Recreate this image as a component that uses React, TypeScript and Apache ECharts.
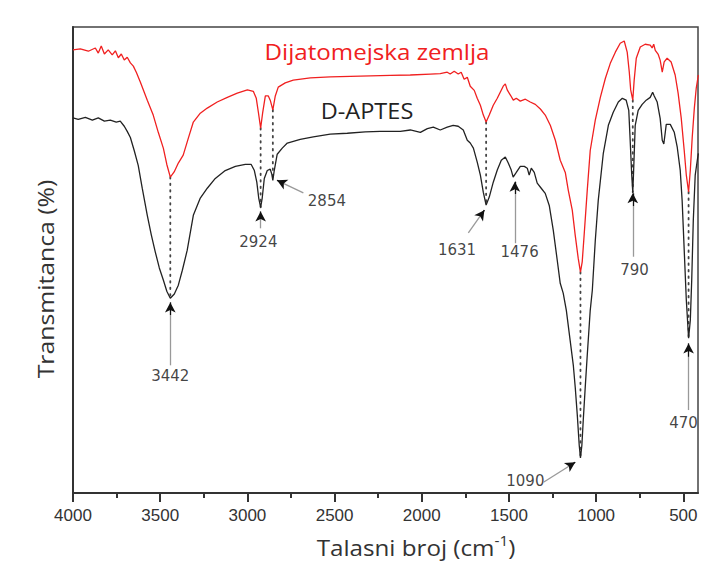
import React, { useEffect, useRef } from "react";
import * as echarts from "echarts";

// Dijatomejska zemlja (red) spectrum: wavenumber (cm-1) and transmittance (arb. %)
const redWn = [
  4000, 3958, 3912, 3872, 3855, 3838, 3820, 3798, 3775, 3757, 3740, 3723, 3706, 3689, 3671, 3654, 3637,
  3614, 3574, 3540, 3511, 3482, 3462, 3442, 3420, 3396, 3368, 3339, 3310, 3270, 3230, 3173, 3115, 3058,
  3000, 2966, 2949, 2937, 2924, 2912, 2897, 2880, 2869, 2854, 2840, 2823, 2783, 2737, 2639, 2525, 2410,
  2295, 2181, 2066, 1951, 1894, 1854, 1837, 1814, 1791, 1774, 1757, 1739, 1722, 1699, 1682, 1664, 1647,
  1631, 1613, 1590, 1567, 1550, 1533, 1521, 1510, 1492, 1475, 1458, 1435, 1406, 1378, 1349, 1320, 1292,
  1263, 1234, 1206, 1177, 1160, 1137, 1120, 1103, 1090, 1080, 1069, 1051, 1034, 1005, 976, 947, 919, 890,
  862, 839, 822, 810, 802, 790, 782, 770, 747, 719, 690, 679, 670, 661, 644, 633, 621, 610, 593, 570, 547,
  530, 512, 495, 483, 470, 460, 449, 437, 426, 414,
];
const redT = [
  95.1, 95.3, 94.8, 95.5, 94.4, 95.9, 94.2, 95.1, 94.0, 94.9, 93.4, 94.2, 92.9, 93.5, 92.3, 91.6, 90.3,
  88.2, 84.3, 81.1, 77.4, 74.0, 70.5, 67.8, 68.9, 70.8, 72.5, 76.1, 79.6, 81.5, 82.6, 83.9, 84.9, 85.8,
  86.5, 86.2, 84.7, 81.7, 78.3, 81.7, 85.2, 85.2, 84.3, 82.2, 85.2, 87.1, 88.0, 88.6, 89.1, 89.3, 89.4,
  89.5, 89.6, 89.7, 89.9, 90.0, 90.3, 89.9, 90.5, 89.9, 90.3, 88.8, 89.2, 87.3, 86.4, 84.7, 83.2, 81.1,
  79.6, 81.1, 83.2, 84.7, 86.0, 87.3, 87.8, 86.5, 85.4, 84.3, 84.7, 84.1, 84.5, 83.9, 83.4, 82.4, 81.1,
  78.9, 75.7, 71.4, 68.8, 65.0, 60.7, 55.3, 50.4, 47.4, 49.6, 55.3, 65.0, 73.5, 80.0, 84.9, 89.0, 92.2, 94.6,
  96.5, 97.0, 94.6, 90.3, 86.5, 84.3, 88.6, 93.3, 95.7, 96.3, 96.1, 95.5, 96.3, 95.0, 94.1, 92.9, 90.3, 92.5, 93.3, 92.5, 89.7,
  85.8, 80.4, 73.5, 68.2, 64.6, 69.3, 76.4, 82.6, 86.9, 89.7,
];

// D-APTES (black) spectrum
const blackWn = [
  4000, 3970, 3929, 3889, 3855, 3820, 3786, 3752, 3729, 3706, 3689, 3671, 3649, 3626, 3603, 3574, 3551,
  3528, 3505, 3482, 3462, 3442, 3419, 3396, 3373, 3345, 3310, 3270, 3230, 3184, 3127, 3069, 3012, 2978,
  2960, 2946, 2935, 2924, 2915, 2903, 2886, 2869, 2860, 2854, 2846, 2829, 2800, 2771, 2697, 2622, 2525,
  2427, 2324, 2238, 2123, 2066, 2008, 1968, 1934, 1894, 1854, 1820, 1791, 1762, 1739, 1722, 1704, 1682,
  1664, 1647, 1631, 1613, 1590, 1567, 1544, 1521, 1504, 1487, 1476, 1458, 1435, 1412, 1395, 1384, 1372,
  1355, 1338, 1315, 1292, 1269, 1246, 1223, 1206, 1189, 1171, 1149, 1131, 1120, 1108, 1097, 1090, 1082,
  1074, 1062, 1051, 1034, 1022, 1005, 988, 959, 930, 902, 873, 850, 828, 813, 805, 796, 790, 785, 776, 759,
  736, 713, 690, 676, 667, 650, 633, 621, 612, 598, 575, 552, 535, 518, 507, 495, 483, 470, 460, 452, 443,
  432, 420, 414,
];
const blackT = [
  80.5, 80.2, 80.6, 80.0, 80.5, 79.8, 80.0, 79.6, 79.8, 78.7, 77.6, 76.3, 73.5, 70.3, 65.4, 59.6, 55.4,
  51.7, 48.3, 45.7, 43.3, 41.8, 42.7, 44.6, 47.8, 52.1, 59.6, 63.3, 65.4, 67.5, 69.2, 70.1, 70.5, 70.5,
  69.2, 66.7, 63.3, 61.3, 63.3, 67.5, 69.2, 69.5, 68.4, 67.1, 69.2, 72.7, 74.0, 75.1, 75.9, 76.4, 77.0,
  77.2, 77.5, 77.6, 77.6, 77.9, 77.4, 78.2, 78.5, 77.9, 78.5, 78.9, 78.7, 77.9, 75.7, 75.1, 74.0, 71.0,
  68.2, 64.5, 61.8, 63.5, 66.7, 69.3, 71.4, 72.1, 70.8, 69.3, 67.8, 68.8, 70.1, 70.1, 69.7, 68.2, 69.7,
  68.8, 66.5, 65.4, 64.3, 61.7, 56.4, 49.9, 45.0, 42.9, 39.2, 32.7, 27.4, 22.7, 16.6, 10.2, 7.5, 10.2,
  15.6, 23.1, 29.6, 39.2, 43.5, 54.2, 62.8, 72.9, 78.9, 81.7, 83.9, 84.7, 84.3, 82.1, 75.7, 68.2, 64.5, 69.3, 78.9, 82.1,
  83.4, 84.3, 84.9, 86.0, 85.2, 83.9, 80.4, 75.7, 74.9, 79.1, 79.1, 77.4, 74.2, 69.3, 62.8, 52.1, 41.4, 33.2, 37.1, 45.7, 58.5,
  68.2, 71.4, 72.9,
];

// Peaks linked by dotted lines (red minimum -> black minimum)
const peakWn = [3442, 2924, 2854, 1631, 1090, 790, 470];
const peakRed = [67.8, 78.3, 82.2, 79.6, 47.4, 84.3, 64.6];
const peakBlack = [41.8, 61.3, 67.1, 61.8, 7.5, 64.5, 33.2];

// Peak annotation labels and arrows
const labelText = ["3442", "2924", "2854", "1631", "1476", "1090", "790", "470"];
const labelWn = [3442, 2937, 2544, 1798, 1439, 1406, 780, 499];
const labelT = [25.1, 53.9, 62.7, 52.1, 51.7, 2.5, 47.8, 15.0];
const arrowFromWn = [3442, 2924, 2679, 1733, 1466, 1302, 790, 470];
const arrowFromT = [27.4, 56.8, 64.4, 55.8, 53.6, 2.3, 50.7, 17.8];
const arrowToWn = [3442, 2924, 2830, 1641, 1466, 1120, 790, 470];
const arrowToT = [40.9, 60.4, 67.1, 60.7, 66.8, 6.6, 64.3, 32.1];

const majorTicks = [4000, 3500, 3000, 2500, 2000, 1500, 1000, 500];
const minorTicks = [3750, 3250, 2750, 2250, 1750, 1250, 750];

const seriesNames = ["Dijatomejska zemlja", "D-APTES"];
const xTitle = "{a|Talasni broj (cm}{b|-1}{a|)}";
const yTitle = "Transmitanca (%)";

export default function App() {
  const ref = useRef<HTMLDivElement>(null);
  useEffect(() => {
    if (!ref.current) return;
    const chart = echarts.init(ref.current, undefined, { renderer: "svg" });

    const redData = redWn.map((w, i) => [w, redT[i]]);
    const blackData = blackWn.map((w, i) => [w, blackT[i]]);

    const dottedSeries = peakWn.map((w, i) => ({
      type: "line",
      xAxisIndex: 0,
      data: [
        [w, peakRed[i]],
        [w, peakBlack[i]],
      ],
      showSymbol: false,
      silent: true,
      lineStyle: { color: "#444", width: 1.8, type: [1.5, 5], cap: "round" },
      z: 1,
    }));

    const shaftLines: any[] = [];
    const headLines: any[] = [];
    arrowFromWn.forEach((w, i) => {
      const x1 = w,
        y1 = arrowFromT[i],
        x2 = arrowToWn[i],
        y2 = arrowToT[i];
      shaftLines.push([{ coord: [x1, y1] }, { coord: [x2, y2] }]);
      const f = 0.2;
      headLines.push([
        { coord: [x2 + (x1 - x2) * f, y2 + (y1 - y2) * f] },
        { coord: [x2, y2] },
      ]);
    });

    const option: any = {
      animation: false,
      backgroundColor: "#ffffff",
      grid: {
        left: 73,
        right: 3,
        top: 27,
        bottom: 70,
        show: true,
        borderColor: "#444",
        borderWidth: 1.5,
      },
      xAxis: [
        {
          type: "value",
          inverse: true,
          min: 416,
          max: 4000,
          position: "bottom",
          axisLine: { show: true, lineStyle: { color: "#333", width: 2 } },
          axisTick: { show: true, customValues: majorTicks, length: 9, lineStyle: { color: "#333", width: 2 } },
          axisLabel: {
            customValues: majorTicks,
            formatter: (v: number) => String(v),
            fontFamily: "Liberation Sans",
            fontSize: 17,
            color: "#333",
            margin: 14,
          },
          splitLine: { show: false },
        },
        {
          type: "value",
          inverse: true,
          min: 416,
          max: 4000,
          position: "bottom",
          offset: 0,
          axisLine: { show: false },
          axisTick: { show: true, customValues: minorTicks, length: 5, lineStyle: { color: "#333", width: 2 } },
          axisLabel: { show: false },
          splitLine: { show: false },
        },
      ],
      yAxis: {
        type: "value",
        min: 0,
        max: 100,
        axisLine: { show: true, lineStyle: { color: "#333", width: 2 } },
        axisTick: { show: false },
        axisLabel: { show: false },
        splitLine: { show: false },
      },
      graphic: [
        {
          type: "text",
          x: 377,
          y: 52,
          scaleX: 1.15,
          style: {
            text: seriesNames[0],
            fill: "#f02020",
            font: "21px 'Open Sans'",
            textAlign: "center",
            textVerticalAlign: "middle",
          },
        },
        {
          type: "text",
          x: 367,
          y: 111,
          scaleX: 1.12,
          style: {
            text: seriesNames[1],
            fill: "#222",
            font: "21px 'Open Sans'",
            textAlign: "center",
            textVerticalAlign: "middle",
          },
        },
        {
          type: "text",
          x: 46,
          y: 279,
          rotation: Math.PI / 2,
          scaleX: 1.18,
          style: {
            text: yTitle,
            fill: "#333",
            font: "21px 'Open Sans'",
            textAlign: "center",
            textVerticalAlign: "middle",
          },
        },
        {
          type: "text",
          x: 416,
          y: 547,
          scaleX: 1.1,
          style: {
            text: xTitle,
            textAlign: "center",
            textVerticalAlign: "middle",
            rich: {
              a: { fontFamily: "Open Sans", fontSize: 22, fill: "#333", lineHeight: 28 },
              b: { fontFamily: "Open Sans", fontSize: 14, fill: "#333", verticalAlign: "top", lineHeight: 16 },
            },
          },
        },
      ],
      series: [
        ...dottedSeries,
        {
          name: seriesNames[0],
          type: "line",
          data: redData,
          showSymbol: false,
          lineStyle: { color: "#f02020", width: 1.3 },
          z: 3,
        },
        {
          name: seriesNames[1],
          type: "line",
          data: blackData,
          showSymbol: false,
          lineStyle: { color: "#222", width: 1.3 },
          z: 3,
        },
        {
          type: "scatter",
          data: labelWn.map((w, i) => [w, labelT[i], labelText[i]]),
          symbolSize: 0,
          silent: true,
          label: {
            show: true,
            position: "inside",
            formatter: (p: any) => p.value[2],
            fontFamily: "DejaVu Sans",
            fontSize: 15,
            color: "#111",
          },
          markLine: {
            silent: true,
            symbol: ["none", "none"],
            lineStyle: { color: "#999", width: 1.3, type: "solid" },
            label: { show: false },
            data: shaftLines,
          },
          z: 4,
        },
        {
          type: "line",
          data: [],
          markLine: {
            silent: true,
            symbol: ["none", "arrow"],
            symbolSize: [8, 10],
            lineStyle: { color: "#111", width: 1.2, type: "solid" },
            label: { show: false },
            data: headLines,
          },
          z: 5,
        },
      ],
    };
    chart.setOption(option);
    return () => chart.dispose();
  }, []);
  return (
    <div
      ref={ref}
      style={{ position: "fixed", left: 0, top: 0, width: 701, height: 563, background: "#fff" }}
    />
  );
}
